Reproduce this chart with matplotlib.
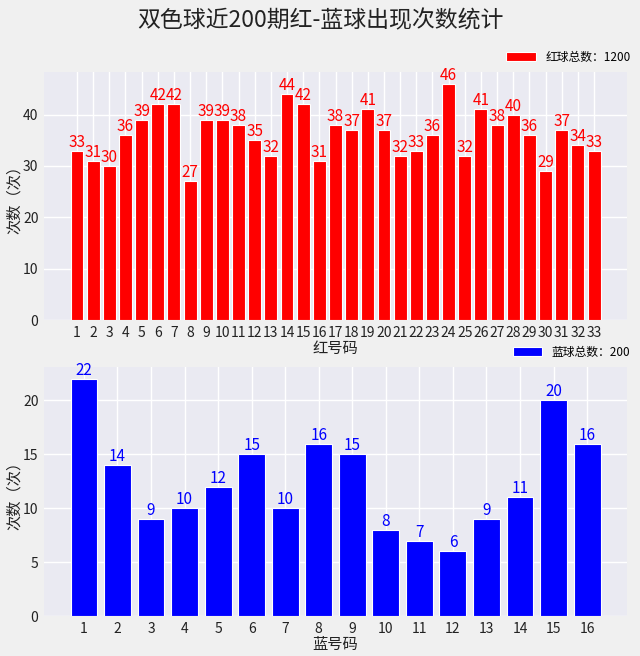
import matplotlib
matplotlib.use('Agg')
import matplotlib.pyplot as plt

plt.rcParams['font.family'] = ['Noto Sans CJK SC', 'DejaVu Sans']
plt.rcParams['axes.unicode_minus'] = False

# data
red_balls = list(range(1, 34))
red_counts = [33, 31, 30, 36, 39, 42, 42, 27, 39, 39, 38, 35, 32, 44, 42, 31, 38,
              37, 41, 37, 32, 33, 36, 46, 32, 41, 38, 40, 36, 29, 37, 34, 33]
blue_balls = list(range(1, 17))
blue_counts = [22, 14, 9, 10, 12, 15, 10, 16, 15, 8, 7, 6, 9, 11, 20, 16]

fig = plt.figure(figsize=(6.4, 6.56), dpi=100, facecolor='#f0f0f0')
ax1 = fig.add_axes([44 / 640, 1 - 320 / 656, 583 / 640, 248 / 656])
ax2 = fig.add_axes([44 / 640, 1 - 616 / 656, 583 / 640, 249 / 656])

fig.text(0.5, 1 - 21 / 656, '双色球近200期红-蓝球出现次数统计',
         ha='center', va='center', fontsize=16.5, color='#222222')


def draw(ax, balls, counts, color, label, xlabel):
    ax.set_facecolor('#eaeaf2')
    ax.set_axisbelow(True)
    ax.grid(True, color='white', linewidth=1)
    for s in ax.spines.values():
        s.set_visible(False)
    bars = ax.bar(balls, counts, width=0.8, color=color, edgecolor='white',
                  linewidth=0.8, label=label)
    for b, c in zip(bars, counts):
        ax.text(b.get_x() + b.get_width() / 2, c, str(c), ha='center',
                va='bottom', color=color, fontsize=11)
    ax.set_xticks(balls)
    ax.set_xticklabels([str(b) for b in balls])
    ax.tick_params(length=0, labelsize=10, colors='#222222', pad=4)
    ax.set_xlabel(xlabel, fontsize=11, color='#222222', labelpad=0)
    ax.set_ylabel('次数（次）', fontsize=11, color='#222222', labelpad=0)
    ax.legend(loc='lower right', bbox_to_anchor=(1.02, 1.0), frameon=False,
              fontsize=8.5, borderaxespad=0.3, handlelength=2.5)


draw(ax1, red_balls, red_counts, 'red', '红球总数：%d' % sum(red_counts), '红号码')
draw(ax2, blue_balls, blue_counts, 'blue', '蓝球总数：%d' % sum(blue_counts), '蓝号码')
ax1.set_yticks([0, 10, 20, 30, 40])
ax2.set_yticks([0, 5, 10, 15, 20])

fig.savefig('out.png', dpi=100, facecolor=fig.get_facecolor())
